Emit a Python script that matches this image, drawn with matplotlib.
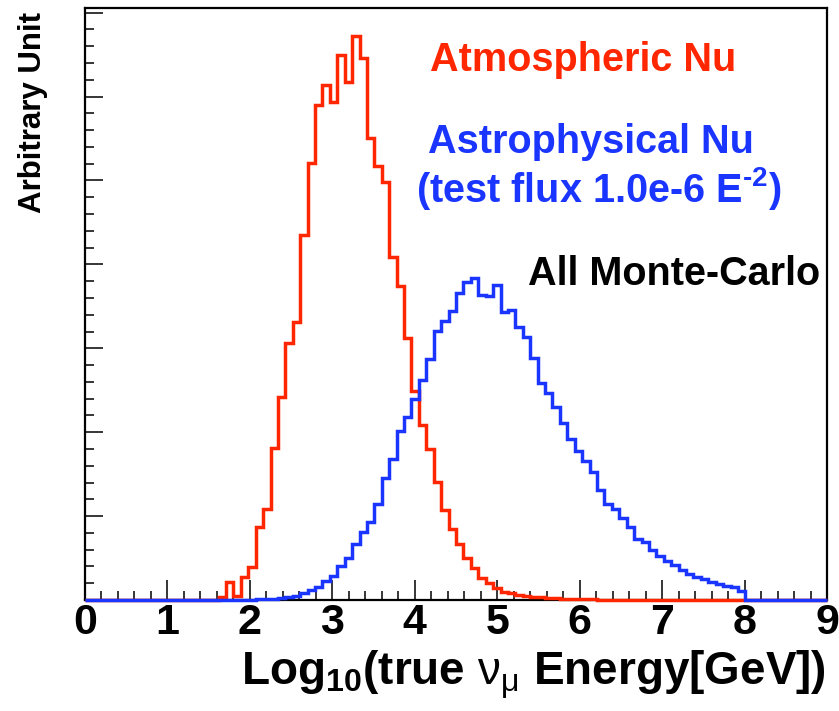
import numpy as np
import matplotlib
matplotlib.use("Agg")
import matplotlib.pyplot as plt
from matplotlib.ticker import MultipleLocator

# ---------------- data (100 bins from 0 to 9) ----------------
x_min, x_max, n_bins = 0.0, 9.0, 100

atmo_nu = [0]*18 + [
    0.03, 0.21, 0.05, 0.28, 0.39, 0.87, 1.09, 1.81, 2.42, 3.06,   # 18-27
    3.31, 4.35, 5.21, 5.90, 6.14, 5.93, 6.50, 6.17, 6.72, 6.46,   # 28-37
    5.51, 5.17, 4.98, 4.09, 3.74, 3.12, 2.49, 2.08, 1.80, 1.41,   # 38-47
    1.07, 0.85, 0.67, 0.50, 0.38, 0.26, 0.20, 0.14, 0.10, 0.08,   # 48-57
    0.06, 0.045, 0.035, 0.03, 0.02, 0.018, 0.015, 0.012, 0.01, 0.008,  # 58-67
    0.006, 0.005, 0.004, 0.003, 0.002, 0.002, 0.001,             # 68-74
] + [0]*25

astro_nu = [0]*20 + [
    0.002, 0.003, 0.005, 0.007, 0.01, 0.014, 0.02, 0.03, 0.047, 0.08,  # 20-29
    0.115, 0.155, 0.23, 0.29, 0.40, 0.50, 0.67, 0.81, 0.93, 1.14,      # 30-39
    1.45, 1.68, 2.02, 2.18, 2.40, 2.62, 2.87, 3.21, 3.32, 3.44,        # 40-49
    3.66, 3.79, 3.84, 3.63, 3.62, 3.75, 3.43, 3.46, 3.25, 3.14,        # 50-59
    2.89, 2.59, 2.47, 2.30, 2.115, 1.92, 1.77, 1.66, 1.53, 1.31,       # 60-69
    1.14, 1.08, 0.98, 0.87, 0.73, 0.69, 0.60, 0.53, 0.47, 0.42,        # 70-79
    0.36, 0.31, 0.27, 0.25, 0.21, 0.19, 0.17, 0.15, 0.11,              # 80-88
] + [0]*11

x_tick_labels = ["0", "1", "2", "3", "4", "5", "6", "7", "8", "9"]

label_atmo = "Atmospheric Nu"
label_astro = "Astrophysical Nu"
label_flux = "(test flux 1.0e-6 E$^{\\mathbf{\u2010 2}}$)"
label_all = "All Monte-Carlo"
x_title = r"Log$_{\mathbf{10}}$(true $\mathrm{\nu}_{\mathrm{\mu}}$ Energy[GeV])"
y_title = "Arbitrary Unit"

# ---------------- style ----------------
RED = "#ff2600"
BLUE = "#1a35ff"
FONT = ["Liberation Sans", "DejaVu Sans"]
plt.rcParams["font.family"] = FONT
plt.rcParams["mathtext.fontset"] = "custom"
plt.rcParams["mathtext.rm"] = "Liberation Sans"
plt.rcParams["mathtext.bf"] = "Liberation Sans:bold"
plt.rcParams["mathtext.it"] = "Liberation Sans:italic"

W, H = 839, 711
fig = plt.figure(figsize=(W / 100, H / 100), dpi=100)

L, R, T, B = 85, 827, 8, 600
ax = fig.add_axes([L / W, 1 - B / H, (R - L) / W, (B - T) / H])

edges = np.linspace(x_min, x_max, n_bins + 1)
peak = max(atmo_nu)

ax.stairs(atmo_nu, edges, color=RED, lw=2.5, zorder=3, clip_on=False)
ax.stairs(astro_nu, edges, color=BLUE, lw=2.5, zorder=4, clip_on=False)

ax.set_xlim(x_min, x_max)
ax.set_ylim(0, peak * 1.05)

ax.xaxis.set_major_locator(MultipleLocator(1))
ax.xaxis.set_minor_locator(MultipleLocator(0.2))
ax.yaxis.set_major_locator(MultipleLocator(1))
ax.yaxis.set_minor_locator(MultipleLocator(0.2))
ax.set_xticks(np.arange(len(x_tick_labels)))
ax.set_xticklabels(x_tick_labels, fontsize=31, fontweight="bold")
ax.tick_params(axis="y", which="both", labelleft=False)
ax.tick_params(which="both", direction="in", top=False, right=False,
               width=1.1, color="black")
ax.tick_params(axis="x", which="major", length=14.5, pad=2)
ax.tick_params(axis="x", which="minor", length=6.5)
ax.tick_params(axis="y", which="major", length=13)
ax.tick_params(axis="y", which="minor", length=6.5)
for s in ax.spines.values():
    s.set_linewidth(1.6)
    s.set_zorder(2)

def ftext(px, py, s, **kw):
    fig.text(px / W, 1 - py / H, s, **kw)

ftext(430, 71, label_atmo, color=RED, fontsize=28.5, fontweight="bold", va="baseline", ha="left")
ftext(428, 153, label_astro, color=BLUE, fontsize=28.5, fontweight="bold", va="baseline", ha="left")
ftext(416, 202, label_flux, color=BLUE, fontsize=28.5, fontweight="bold", va="baseline", ha="left")
ftext(528, 285, label_all, color="black", fontsize=28.5, fontweight="bold", va="baseline", ha="left")

ftext(826, 686, x_title, color="black", fontsize=33, fontweight="bold", va="baseline", ha="right")
ftext(48, 12, y_title, color="black", fontsize=22.5, fontweight="bold", rotation=90,
      va="top", ha="right")

fig.savefig("out.png", dpi=100)
